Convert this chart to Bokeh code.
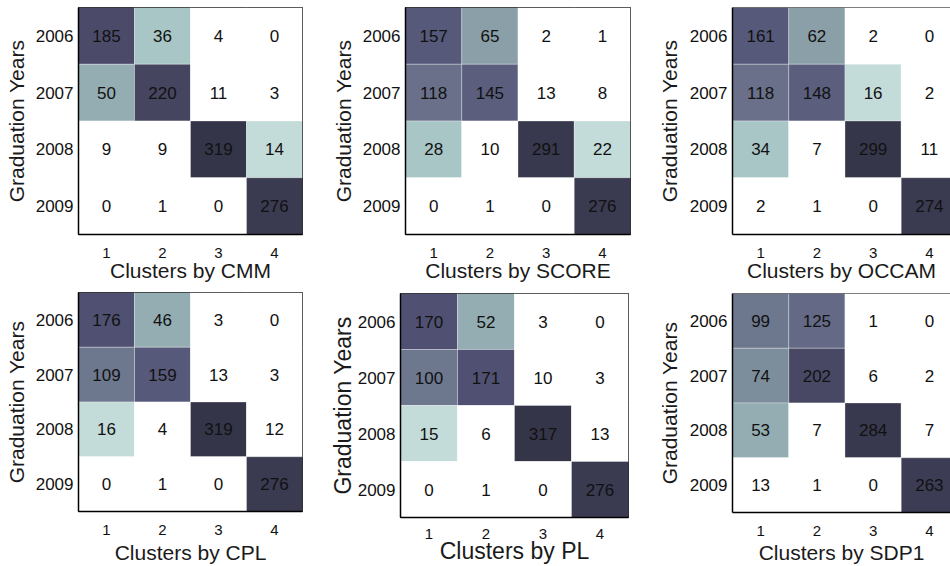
from bokeh.plotting import figure
from bokeh.layouts import column, row
from bokeh.models import ColumnDataSource, Range1d, FixedTicker, LinearColorMapper, Span
from bokeh.transform import transform
from bokeh.embed import file_html
from bokeh.resources import INLINE
from bokeh.core.properties import value

# ---------------- data ----------------
years = ["2006", "2007", "2008", "2009"]
clusters = ["1", "2", "3", "4"]
methods = ["CMM", "SCORE", "OCCAM", "CPL", "PL", "SDP1"]

cmm = [[185, 36, 4, 0], [50, 220, 11, 3], [9, 9, 319, 14], [0, 1, 0, 276]]
score = [[157, 65, 2, 1], [118, 145, 13, 8], [28, 10, 291, 22], [0, 1, 0, 276]]
occam = [[161, 62, 2, 0], [118, 148, 16, 2], [34, 7, 299, 11], [2, 1, 0, 274]]
cpl = [[176, 46, 3, 0], [109, 159, 13, 3], [16, 4, 319, 12], [0, 1, 0, 276]]
pl = [[170, 52, 3, 0], [100, 171, 10, 3], [15, 6, 317, 13], [0, 1, 0, 276]]
sdp1 = [[99, 125, 1, 0], [74, 202, 6, 2], [53, 7, 284, 7], [13, 1, 0, 263]]

# ---------------- style ----------------
palette = ["#ffffff", "#c3dbd9", "#a8c6c6", "#93adb2", "#8a9fa8", "#7c8e9c",
           "#748296", "#6d778e", "#6a7089", "#646a86", "#5b5e7d", "#565979",
           "#505172", "#4b4b69", "#484864", "#45455f", "#42425b", "#3f3f58",
           "#3c3c54", "#3a3a51", "#38384e", "#36364b", "#35354a"]
mapper = LinearColorMapper(palette=palette, low=0, high=319)
FONT = "Liberation Sans"


def panel(name, mat, width, height, bl, br, bt, bb, x_end=4.5, label_size="21px",
          clipped=False, y_std=5, x_std=-2, x_tick_std=13):
    xs, ys, vs = [], [], []
    for i in range(len(years)):
        for j in range(len(clusters)):
            xs.append(j + 1)
            ys.append(i + 1)
            vs.append(mat[i][j])
    src = ColumnDataSource(dict(x=xs, y=ys, v=vs, t=[str(v) for v in vs]))
    y_rng = Range1d(len(years) + 0.5, 0.5)
    p = figure(width=width, height=height, x_range=Range1d(0.5, x_end),
               y_range=y_rng, output_backend="svg",
               toolbar_location=None, min_border_left=bl, min_border_right=br,
               min_border_top=bt, min_border_bottom=bb)
    p.grid.visible = False
    p.background_fill_color = "white"
    p.border_fill_color = "white"
    p.rect("x", "y", 1, 1, source=src, fill_color=transform("v", mapper),
           line_color="white", line_alpha=0.3, line_width=1)
    p.text("x", "y", text="t", source=src, text_align="center",
           text_baseline="middle", text_font=value(FONT), text_font_size="17px",
           text_color="#111111")
    if clipped:
        p.outline_line_color = None
        p.add_layout(Span(location=y_rng.end, dimension="width",
                          line_color="black", line_width=1))
    else:
        p.outline_line_color = "black"
        p.outline_line_width = 1
        p.outline_line_alpha = 1

    xt = list(range(1, len(clusters) + 1))
    yt = list(range(1, len(years) + 1))
    xa = p.xaxis[0]
    xa.ticker = FixedTicker(ticks=xt)
    xa.major_label_overrides = {k: clusters[k - 1] for k in xt}
    xa.axis_label = "Clusters by " + name
    ya = p.yaxis[0]
    ya.ticker = FixedTicker(ticks=yt)
    ya.major_label_overrides = {k: years[k - 1] for k in yt}
    ya.axis_label = "Graduation Years"
    for ax, lsize in ((xa, "15px"), (ya, "17px")):
        ax.major_tick_line_color = None
        ax.major_tick_out = 0
        ax.major_tick_in = 0
        ax.minor_tick_line_color = None
        ax.minor_tick_out = 0
        ax.axis_line_color = "black"
        ax.axis_line_width = 1.5
        ax.major_label_text_font = FONT
        ax.major_label_text_font_size = lsize
        ax.major_label_text_color = "#111111"
        ax.axis_label_text_font = FONT
        ax.axis_label_text_font_size = label_size
        ax.axis_label_text_font_style = "normal"
        ax.axis_label_text_color = "#1a1a1a"
    xa.major_label_standoff = x_tick_std
    xa.axis_label_standoff = x_std
    ya.major_label_standoff = 5
    ya.axis_label_standoff = y_std
    return p


f1 = panel(methods[0], cmm, 327, 285, 78, 25, 7, 51)
f2 = panel(methods[1], score, 327, 285, 78, 24, 7, 51)
f3 = panel(methods[2], occam, 296, 285, 78, 0, 7, 51, x_end=4.376, clipped=True, y_std=6)
f4 = panel(methods[3], cpl, 325, 281, 78, 23, 7, 54, x_std=3)
f5 = panel(methods[4], pl, 329, 281, 75, 26, 8, 44, label_size="23px",
           y_std=-1, x_std=-4, x_tick_std=11)
f6 = panel(methods[5], sdp1, 296, 281, 78, 0, 8, 54, x_end=4.376, clipped=True,
           y_std=6, x_std=2)

layout = column(row(column(f1), column(f2), column(f3)),
                row(column(f4), column(f5), column(f6)))
open("out.html", "w").write(file_html(layout, INLINE))
